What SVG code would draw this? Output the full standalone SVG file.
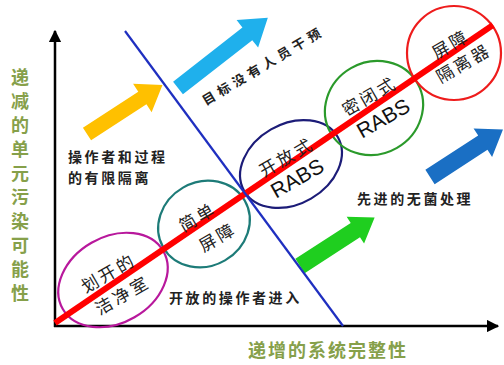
<svg xmlns="http://www.w3.org/2000/svg" width="504" height="365" viewBox="0 0 504 365">
<defs>
<style>
.zh{font-family:"Noto Sans CJK SC","Noto Sans CJK JP",sans-serif;}
.lbl{font-size:14px;font-weight:bold;fill:#222;letter-spacing:2.6px;}
.axl{font-size:18px;font-weight:bold;fill:#86a04a;}
.in{font-size:17px;fill:#222;letter-spacing:3px;text-anchor:middle;dominant-baseline:central;}
.rabs{font-family:"Liberation Sans",Arial,sans-serif;font-size:21px;fill:#111;text-anchor:middle;dominant-baseline:central;}
.ell{fill:none;stroke-width:2.2;}
</style>
<marker id="ah" viewBox="0 0 10 10" refX="9" refY="5" markerWidth="5" markerHeight="5" orient="auto" markerUnits="strokeWidth">
<path d="M0,0 L10,5 L0,10 z" fill="#000"/>
</marker>
<polygon id="barrow" points="0,-8 -24,-8 -24,-17 0,0 -24,17 -24,8 0,8"/>
</defs>
<rect width="504" height="365" fill="#fff"/>

<g id="axes">
<line x1="55" y1="327" x2="55" y2="31" stroke="#000" stroke-width="2.5" marker-end="url(#ah)"/>
<line x1="54" y1="326" x2="498" y2="326" stroke="#000" stroke-width="2.5" marker-end="url(#ah)"/>
</g>

<g id="arrows">
<polygon transform="translate(87,134) rotate(-33)" points="0,-7.5 66,-7.5 66,-17 90,0 66,17 66,7.5 0,7.5" fill="#ffc000"/>
<polygon transform="translate(178,88) rotate(-38)" points="0,-8 88,-8 88,-17.5 114,0 88,17.5 88,8 0,8" fill="#1fb0ec"/>
<polygon transform="translate(300,266) rotate(-33)" points="0,-8.5 66,-8.5 66,-16 89,0 66,16 66,8.5 0,8.5" fill="#1fce1f"/>
<polygon transform="translate(430,177) rotate(-33)" points="0,-8.5 63,-8.5 63,-17 87,0 63,17 63,8.5 0,8.5" fill="#1a6fc4"/>
</g>

<g id="node-1">
<ellipse class="ell" cx="113" cy="280" rx="58" ry="43" transform="rotate(-30 113 280)" stroke="#b8189c"/>
</g>
<g id="node-2">
<ellipse class="ell" cx="204" cy="224" rx="47" ry="42" transform="rotate(-30 204 224)" stroke="#1d7b78"/>
</g>
<g id="node-3">
<ellipse class="ell" cx="291" cy="164" rx="54" ry="40" transform="rotate(-30 291 164)" stroke="#1c1c78"/>
</g>
<g id="node-4">
<ellipse class="ell" cx="374" cy="108" rx="50" ry="46" transform="rotate(-30 374 108)" stroke="#2b9a2b"/>
</g>
<g id="node-5">
<circle class="ell" cx="454" cy="53" r="47" stroke="#ee1c1c"/>
</g>

<g id="connectors">
<line x1="55" y1="323" x2="493" y2="25" stroke="#ff0000" stroke-width="6"/>
<line x1="125" y1="31" x2="343" y2="326" stroke="#1f2fc0" stroke-width="2.2"/>
</g>

<g id="node-texts">
<text class="zh in" transform="translate(108,272) rotate(-30)">划开的</text>
<text class="zh in" transform="translate(122,294) rotate(-30)">洁净室</text>
<text class="zh in" transform="translate(197,216) rotate(-30)">简单</text>
<text class="zh in" transform="translate(217,236) rotate(-30)">屏障</text>
<text class="zh in" transform="translate(286,156) rotate(-30)">开放式</text>
<text class="rabs" transform="translate(297,178) rotate(-30)">RABS</text>
<text class="zh in" transform="translate(369,95) rotate(-30)">密闭式</text>
<text class="rabs" transform="translate(383,118) rotate(-30)">RABS</text>
<text class="zh in" transform="translate(450,43) rotate(-30)">屏障</text>
<text class="zh in" transform="translate(463,62) rotate(-30)">隔离器</text>
</g>

<g id="labels">
<text class="zh lbl" x="68" y="162">操作者和过程</text>
<text class="zh lbl" x="68" y="183">的有限隔离</text>
<text class="zh lbl" x="357" y="204">先进的无菌处理</text>
<text class="zh lbl" x="169" y="303">开放的操作者进入</text>
<text class="zh" font-size="13" font-weight="bold" fill="#222" letter-spacing="4.5" text-anchor="middle" dominant-baseline="central" transform="translate(263,65) rotate(-31)">目标没有人员干预</text>
<text class="zh axl" x="248" y="357" letter-spacing="2">递增的系统完整性</text>
<text class="zh axl" text-anchor="middle">
<tspan x="20" y="84">递</tspan><tspan x="20" y="108">减</tspan><tspan x="20" y="132">的</tspan><tspan x="20" y="156">单</tspan><tspan x="20" y="180">元</tspan><tspan x="20" y="204">污</tspan><tspan x="20" y="228">染</tspan><tspan x="20" y="252">可</tspan><tspan x="20" y="276">能</tspan><tspan x="20" y="300">性</tspan>
</text>
</g>
</svg>
